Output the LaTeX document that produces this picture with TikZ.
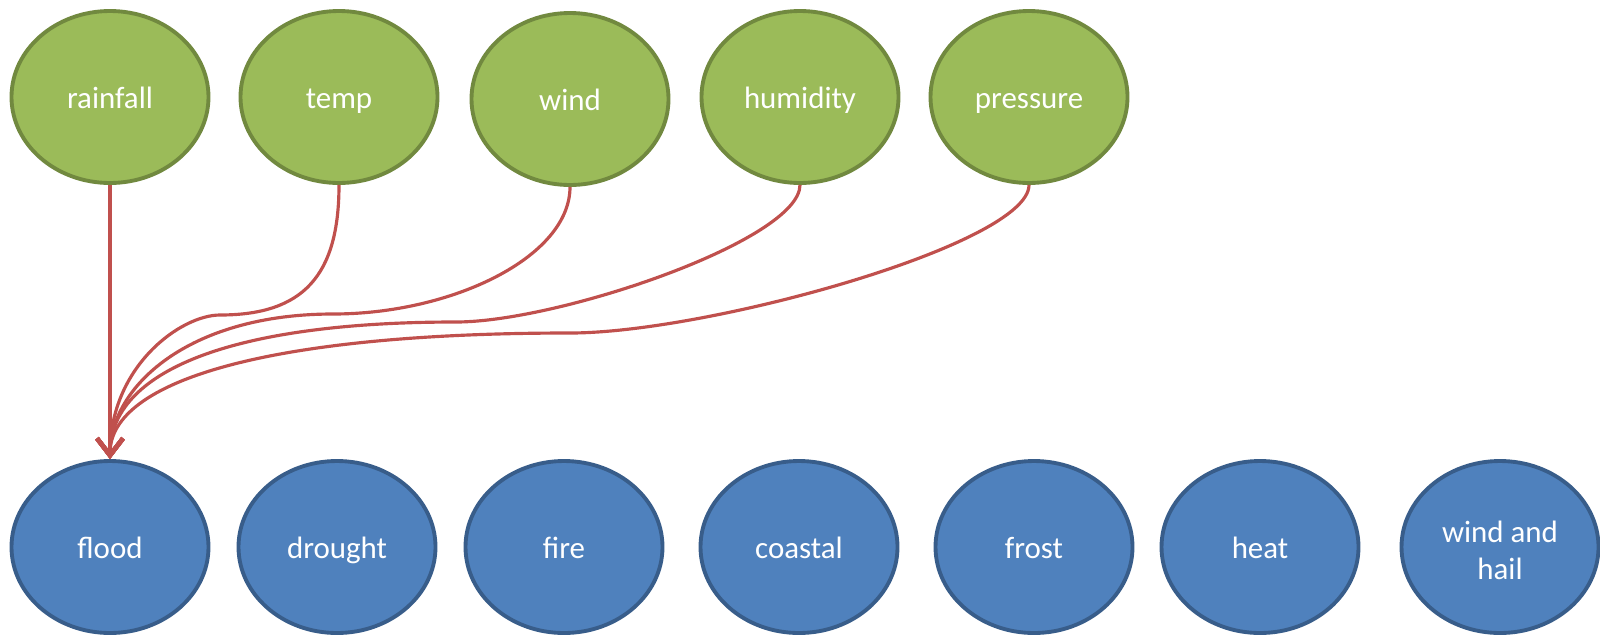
\documentclass[tikz,border=0pt]{standalone}
\usepackage{fontspec}
\setmainfont{Carlito}
\usetikzlibrary{arrows.meta,shapes.geometric}
\definecolor{causeGreen}{RGB}{155,187,89}
\definecolor{causeGreenLine}{RGB}{113,137,63}
\definecolor{hazardBlue}{RGB}{79,129,189}
\definecolor{hazardBlueLine}{RGB}{56,93,138}
\definecolor{linkRed}{RGB}{192,80,77}

\begin{document}
\begin{tikzpicture}[x=1cm,y=1cm,
    cause/.style={ellipse,minimum width=1.97cm,minimum height=1.72cm,inner sep=0pt,
      fill=causeGreen,draw=causeGreenLine,line width=1.1pt,text=white,
      text height=0.8em,text depth=0.15em,
      font=\fontsize{8.8}{10.5}\selectfont},
    hazard/.style={cause,fill=hazardBlue,draw=hazardBlueLine,align=center},
    link/.style={draw=linkRed,line width=0.9pt,
      -{Straight Barb[length=1.7mm,width=2.6mm,line width=1.3pt]}}
  ]
    \useasboundingbox (0,0) rectangle (16,6.37);

    % weather inputs
    \node[cause] (rainfall) at (1.10,5.40) {rainfall};
    \node[cause] (temp)     at (3.39,5.40) {temp};
    \node[cause] (wind)     at (5.70,5.38) {wind};
    \node[cause] (humidity) at (8.00,5.40) {humidity};
    \node[cause] (pressure) at (10.29,5.40) {pressure};

    % hazards
    \node[hazard] (flood)    at (1.10,0.90) {flood};
    \node[hazard] (drought)  at (3.37,0.90) {drought};
    \node[hazard] (fire)     at (5.64,0.90) {fire};
    \node[hazard] (coastal)  at (7.99,0.90) {coastal};
    \node[hazard] (frost)    at (10.34,0.90) {frost};
    \node[hazard] (heat)     at (12.60,0.90) {heat};
    \node[hazard,text height=1.99em] (windhail) at (15.00,0.90) {wind and\\hail};

    % bends of the curved links
    \coordinate (bendTemp)     at (2.20,3.22);
    \coordinate (bendWind)     at (3.33,3.23);
    \coordinate (bendHumidity) at (4.56,3.15);
    \coordinate (bendPressure) at (5.70,3.04);

    \draw[link] (rainfall.south) -- (flood.north);
    \draw[link] (temp.south) .. controls +(0,-0.91) and +(0.83,0) .. (bendTemp)
      .. controls +(-0.39,0) and +(0,0.93) .. (flood.north);
    \draw[link] (wind.south) .. controls +(0,-0.70) and +(1.19,0) .. (bendWind)
      .. controls +(-1.45,0) and +(0,0.72) .. (flood.north);
    \draw[link] (humidity.south) .. controls +(0,-0.55) and +(1.03,0) .. (bendHumidity)
      .. controls +(-2.25,0) and +(0,0.88) .. (flood.north);
    \draw[link] (pressure.south) .. controls +(0,-0.59) and +(1.38,0) .. (bendPressure)
      .. controls +(-2.99,0) and +(0,0.79) .. (flood.north);
  \end{tikzpicture}
\end{document}
